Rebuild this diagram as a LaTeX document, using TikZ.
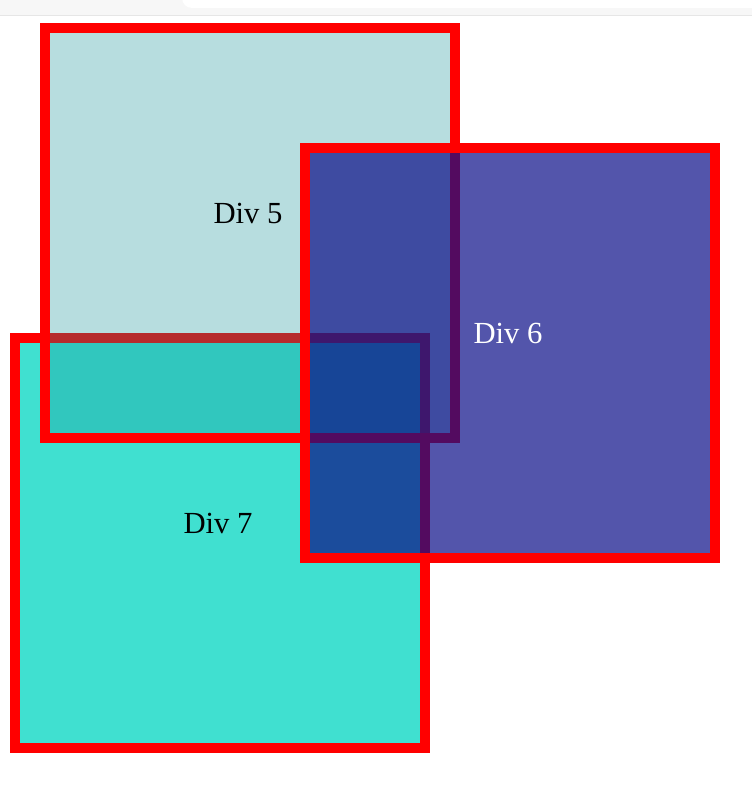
\documentclass[tikz,border=0pt]{standalone}
\usepackage{fontspec}
\setmainfont{Liberation Serif}
\definecolor{divseven}{RGB}{64,224,208}
\definecolor{divfive}{RGB}{15,143,150}
\definecolor{divsix}{RGB}{13,16,136}
\definecolor{chrome}{RGB}{247,247,247}
\definecolor{chromeline}{RGB}{230,230,230}
\tikzset{
  divbox/.style={draw=red,line width=7.5pt},
  divlabel/.style={anchor=base,inner sep=0pt,font=\fontsize{23}{28}\selectfont}
}
\begin{document}
\begin{tikzpicture}[x=0.75pt,y=-0.75pt]
\useasboundingbox (0,0) rectangle (752,806);

% Browser bar
\fill[chrome] (0,0) rectangle (752,16);
\draw[chromeline,line width=0.75pt] (0,15.5) -- (752,15.5);
\fill[white,rounded corners=7.5pt] (182,-20) rectangle (780,8);

% Boxes, back to front
\foreach \n/\x/\y/\col/\op/\txt in {7/10/333/divseven/1/black,
                                    5/40/23/divfive/0.3/black,
                                    6/300/143/divsix/0.71/white} {
  \draw[divbox,fill=\col,fill opacity=\op] (\x+5,\y+5) rectangle ++(410,410);
  \node[divlabel,text=\txt] (lbl\n) at (\x+208,\y+200) {Div \n};
}
\end{tikzpicture}
\end{document}
